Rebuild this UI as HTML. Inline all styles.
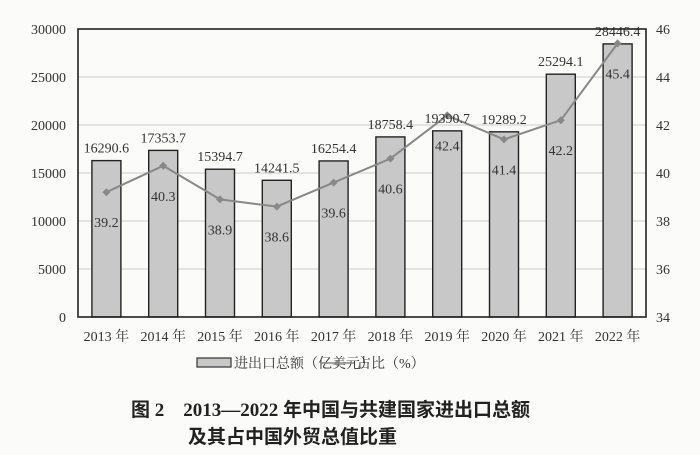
<!DOCTYPE html>
<html><head><meta charset="utf-8"><style>
body{margin:0;background:#fbfbf9;}
svg{display:block;font-family:"Liberation Serif","Noto Serif CJK SC",serif;}
</style></head><body>
<svg id="chart" width="700" height="455" viewBox="0 0 700 455">
<rect x="0" y="0" width="700" height="455" fill="#fbfbf9"/>
<g id="grid"></g><g id="bars"></g><g id="line"></g><g id="labels"></g>
<rect x="78" y="29" width="568" height="288" fill="none" stroke="#222" stroke-width="1.6"/>
<g>
<rect x="197" y="358" width="34" height="9" fill="#c8c8c8" stroke="#333" stroke-width="1.2"/>
<text x="234" y="368" font-size="14" fill="#333">进出口总额（亿美元）</text>
<line x1="320" y1="363" x2="354" y2="363" stroke="#888" stroke-width="1.5"/>
<path d="M337 360 L340 363 L337 366 L334 363Z" fill="#888"/>
<text x="357" y="368" font-size="14" fill="#333">占比（%）</text>
</g>
<text x="131" y="416" font-size="19" font-weight="bold" fill="#222" font-family="Liberation Serif, Noto Sans CJK SC, sans-serif">图 2　2013—2022 年中国与共建国家进出口总额</text>
<text x="188" y="443" font-size="19" font-weight="bold" fill="#222" font-family="Noto Sans CJK SC, sans-serif">及其占中国外贸总值比重</text>
</svg>
<script>
const years=["2013 年","2014 年","2015 年","2016 年","2017 年","2018 年","2019 年","2020 年","2021 年","2022 年"];
const totals=[16290.6,17353.7,15394.7,14241.5,16254.4,18758.4,19390.7,19289.2,25294.1,28446.4];
const shares=[39.2,40.3,38.9,38.6,39.6,40.6,42.4,41.4,42.2,45.4];
const leftTicks=[0,5000,10000,15000,20000,25000,30000];
const rightTicks=[34,36,38,40,42,44,46];
const NS="http://www.w3.org/2000/svg";
const L=78,R=646,T=29,B=317;
const yL=v=>B-(v/30000)*(B-T);
const yR=v=>B-((v-34)/12)*(B-T);
const bw=(R-L)/years.length;
const xC=i=>L+bw*(i+0.5);
function mk(tag,attrs,parent,text){const e=document.createElementNS(NS,tag);for(const k in attrs)e.setAttribute(k,attrs[k]);if(text!==undefined)e.textContent=text;document.getElementById(parent).appendChild(e);return e;}
leftTicks.forEach(v=>{
 if(v>0&&v<30000){const g=mk('line',{x1:L,x2:R,y1:yL(v),y2:yL(v),stroke:'#dcdcdc','stroke-width':1.5},'grid');
 
 }
 const t=mk('text',{x:66,y:yL(v)+5,'text-anchor':'end','font-size':14,fill:'#333'},'labels',String(v));
 
 
});
rightTicks.forEach(v=>{
 const t=mk('text',{x:656,y:yR(v)+5,'font-size':14,fill:'#333'},'labels',String(v));
 
 
});
years.forEach((y,i)=>{
 const b=mk('rect',{x:xC(i)-14.5,y:yL(totals[i]),width:29,height:B-yL(totals[i]),fill:'#c8c8c8',stroke:'#222','stroke-width':1.4},'bars');
 
 
 const bl=mk('text',{x:xC(i),y:yL(totals[i])-8,'text-anchor':'middle','font-size':14,fill:'#333'},'labels',totals[i].toFixed(1));
 
 
 const xl=mk('text',{x:xC(i),y:341,'text-anchor':'middle','font-size':14,fill:'#333'},'labels',y);
 
 
 const sl=mk('text',{x:xC(i),y:yR(shares[i])+35,'text-anchor':'middle','font-size':14,fill:'#333'},'labels',shares[i].toFixed(1));
 
 
});
const pts=shares.map((s,i)=>xC(i)+','+yR(s)).join(' ');
const pl=mk('polyline',{points:pts,fill:'none',stroke:'#888','stroke-width':2},'line');


shares.forEach((s,i)=>{
 const x=xC(i),y=yR(s);
 const m=mk('path',{d:`M${x} ${y-4} L${x+4} ${y} L${x} ${y+4} L${x-4} ${y}Z`,fill:'#888'},'line');
 
 
});
</script>
</body></html>
